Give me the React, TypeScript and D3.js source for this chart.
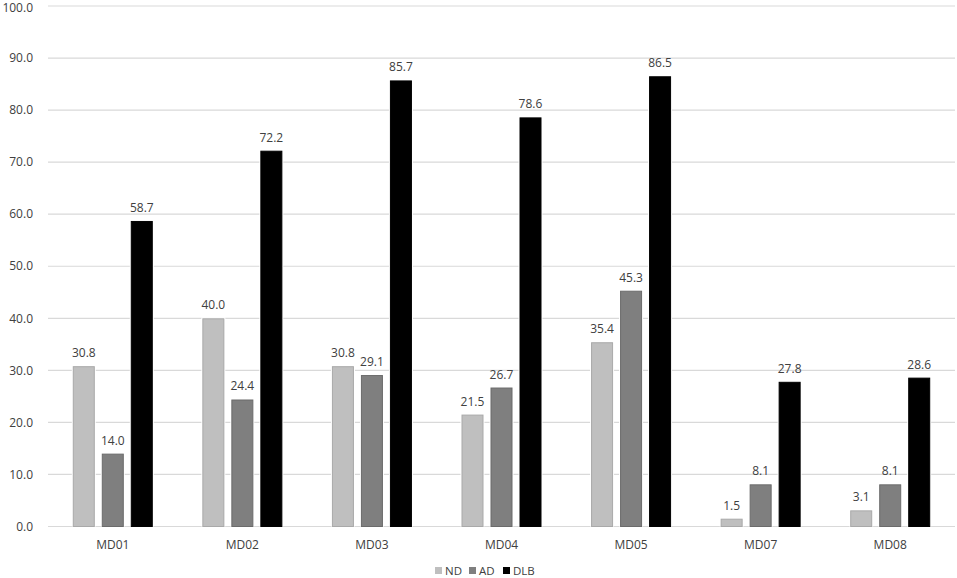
import { useEffect, useRef } from "react"
import * as d3 from "d3"

// chart data
const categories = ["MD01", "MD02", "MD03", "MD04", "MD05", "MD07", "MD08"]
const seriesNames = ["ND", "AD", "DLB"]
const ndValues = [30.8, 40.0, 30.8, 21.5, 35.4, 1.5, 3.1]
const adValues = [14.0, 24.4, 29.1, 26.7, 45.3, 8.1, 8.1]
const dlbValues = [58.7, 72.2, 85.7, 78.6, 86.5, 27.8, 28.6]
const yTicks = [0, 10, 20, 30, 40, 50, 60, 70, 80, 90, 100]

const fills = ["#bfbfbf", "#7f7f7f", "#000000"]
const strokes = ["#a9a9a9", "#6b6b6b", "#000000"]

const App = () => {
  const svgRef = useRef<SVGSVGElement>(null)

  useEffect(() => {
    if (!svgRef.current) return
    const svg = d3.select(svgRef.current)
    svg.selectAll("*").remove()

    const width = 957
    const height = 578
    const left = 48
    const right = 955
    const top = 6
    const bottom = 526.5
    const font = "'Open Sans', 'Segoe UI', sans-serif"

    svg.attr("width", width).attr("height", height).style("font-family", font)

    const x0 = d3.scaleBand<string>().domain(categories).range([left, right]).padding(0)
    const groupW = 80
    const x1 = d3
      .scaleBand<string>()
      .domain(seriesNames)
      .range([(x0.bandwidth() - groupW) / 2, (x0.bandwidth() + groupW) / 2])
      .paddingInner(7 / 29)
      .paddingOuter(0)

    const y = d3.scaleLinear().domain([0, 100]).range([bottom, top])

    // gridlines
    svg
      .append("g")
      .selectAll("line")
      .data(yTicks)
      .join("line")
      .attr("x1", left)
      .attr("x2", right)
      .attr("y1", (d) => y(d))
      .attr("y2", (d) => y(d))
      .attr("stroke", "#d9d9d9")
      .attr("stroke-width", 1.2)

    // y tick labels (top one nudged so it stays inside the picture)
    svg
      .append("g")
      .selectAll("text")
      .data(yTicks)
      .join("text")
      .attr("x", 33)
      .attr("y", (d) => Math.max(y(d), 7.5))
      .attr("dy", "0.35em")
      .attr("text-anchor", "end")
      .attr("font-size", 12)
      .attr("fill", "#404040")
      .text((d) => d.toFixed(1))

    const all = [ndValues, adValues, dlbValues]
    const groups = svg
      .append("g")
      .selectAll("g")
      .data(categories)
      .join("g")
      .attr("transform", (d) => `translate(${x0(d)},0)`)

    groups.each(function (_cat, ci) {
      const g = d3.select(this)
      seriesNames.forEach((s, si) => {
        const v = all[si][ci]
        // white halo that breaks the gridlines around each bar
        g.append("rect")
          .attr("x", x1(s)! - 1)
          .attr("y", y(v) - 1)
          .attr("width", x1.bandwidth() + 2)
          .attr("height", bottom - y(v) + 1)
          .attr("fill", "#ffffff")
        g.append("rect")
          .attr("x", x1(s)! + 0.5)
          .attr("y", y(v) + 0.5)
          .attr("width", x1.bandwidth() - 1)
          .attr("height", Math.max(0, bottom - y(v) - 0.5))
          .attr("fill", fills[si])
          .attr("stroke", strokes[si])
          .attr("stroke-width", 1)
        g.append("text")
          .attr("x", x1(s)! + x1.bandwidth() / 2)
          .attr("y", y(v) - 9)
          .attr("text-anchor", "middle")
          .attr("font-size", 12)
          .attr("fill", "#404040")
          .text(v.toFixed(1))
      })
    })

    // category labels
    svg
      .append("g")
      .selectAll("text")
      .data(categories)
      .join("text")
      .attr("x", (d) => x0(d)! + x0.bandwidth() / 2)
      .attr("y", 545)
      .attr("dy", "0.35em")
      .attr("text-anchor", "middle")
      .attr("font-size", 12)
      .attr("fill", "#404040")
      .text((d) => d)

    // legend
    const legendX = [435, 469, 503]
    const legend = svg
      .append("g")
      .selectAll("g")
      .data(seriesNames)
      .join("g")
      .attr("transform", (_d, i) => `translate(${legendX[i]},570.5)`)
    legend
      .append("rect")
      .attr("x", 0)
      .attr("y", -3.5)
      .attr("width", 7)
      .attr("height", 7)
      .attr("fill", (_d, i) => fills[i])
    legend
      .append("text")
      .attr("x", 10)
      .attr("y", 0)
      .attr("dy", "0.35em")
      .attr("font-size", 11.5)
      .attr("fill", "#404040")
      .text((d) => d)
  }, [])

  return (
    <div style={{ position: "absolute", left: 0, top: 0 }}>
      <svg ref={svgRef} style={{ display: "block" }} />
    </div>
  )
}

export default App
